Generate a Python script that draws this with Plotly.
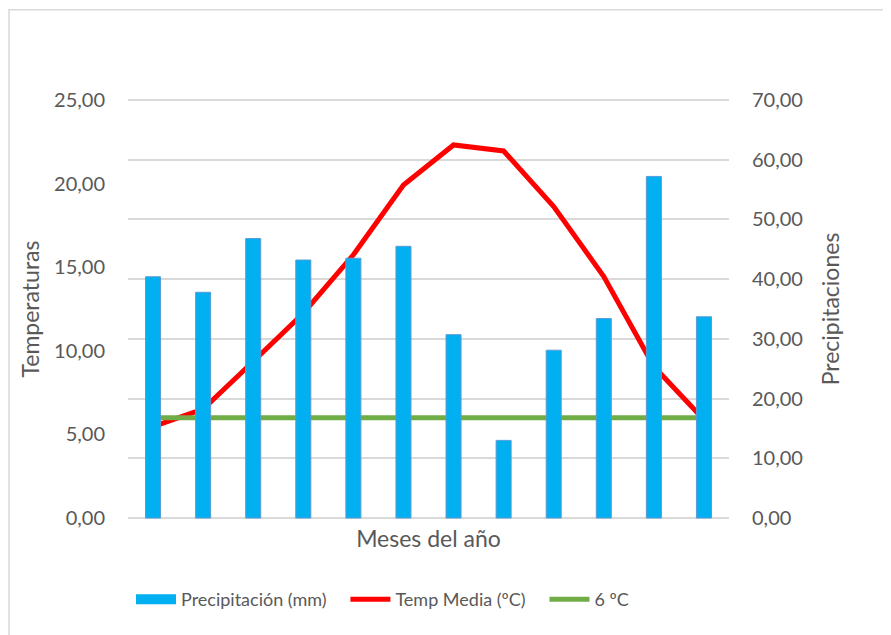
import plotly.graph_objects as go

meses = ["Ene", "Feb", "Mar", "Abr", "May", "Jun", "Jul", "Ago", "Sep", "Oct", "Nov", "Dic"]
precipitacion = [40.4, 37.8, 46.8, 43.2, 43.5, 45.5, 30.7, 13.0, 28.1, 33.4, 57.2, 33.7]
temp_media = [5.47, 6.52, 9.36, 12.25, 15.74, 19.92, 22.31, 21.95, 18.63, 14.44, 9.06, 5.88]
umbral = [6.0] * 12

left_ticks = [0, 5, 10, 15, 20, 25]
right_ticks = [0, 10, 20, 30, 40, 50, 60, 70]

FONT = "Lato, Carlito, Calibri, sans-serif"
GRAY = "#595959"
BAR_COLOR = "#00B0F0"
PAD = "\u00a0" * 3
EPS = 0.5  # headroom so the edge gridlines are drawn

fig = go.Figure()
fig.add_trace(go.Bar(
    x=meses, y=precipitacion, name="Precipitación (mm)", yaxis="y2",
    marker=dict(color=BAR_COLOR, line=dict(color="#5B9BD5", width=1)),
    width=0.3, showlegend=False,
))
# legend-only entry drawn as a wide rectangle like the original
fig.add_trace(go.Scatter(
    x=[None], y=[None], name="Precipitación (mm)" + PAD, mode="lines",
    line=dict(color=BAR_COLOR, width=14),
))
fig.add_trace(go.Scatter(
    x=meses, y=temp_media, name="Temp Media (ºC)" + PAD, mode="lines",
    line=dict(color="#FF0000", width=5),
))
fig.add_trace(go.Scatter(
    x=meses, y=umbral, name="6 ºC", mode="lines",
    line=dict(color="#70AD47", width=5),
))

fig.update_layout(
    width=891, height=635,
    margin=dict(l=120, r=170, t=89, b=122),
    paper_bgcolor="white", plot_bgcolor="white",
    font=dict(family=FONT, color=GRAY, size=19),
    showlegend=True,
    xaxis=dict(
        showticklabels=False, showgrid=False, zeroline=False,
        showline=False, ticks="",
        title=dict(text="Meses del año", font=dict(size=23, color=GRAY), standoff=9),
    ),
    yaxis=dict(
        range=[-EPS * 25 / 70, 25 + EPS * 25 / 70], tickvals=left_ticks,
        ticktext=[f"{v:.2f}".replace(".", ",") for v in left_ticks],
        showgrid=False, zeroline=False, showline=False,
        ticklen=0, ticklabelstandoff=22,
        title=dict(text="Temperaturas", font=dict(size=23, color=GRAY), standoff=7),
        tickfont=dict(size=20, color=GRAY),
    ),
    yaxis2=dict(
        range=[-EPS, 70 + EPS], tickvals=right_ticks,
        ticktext=[f"{v:.2f}".replace(".", ",") for v in right_ticks],
        overlaying="y", side="right",
        showgrid=True, gridcolor="#D9D9D9", gridwidth=1.5,
        zeroline=False, showline=False, ticklen=0, ticklabelstandoff=22,
        title=dict(text="Precipitaciones", font=dict(size=23, color=GRAY), standoff=20),
        tickfont=dict(size=20, color=GRAY),
    ),
    legend=dict(
        orientation="h", x=0.005, xanchor="left", y=-0.185, yanchor="middle",
        font=dict(size=18, color=GRAY), itemwidth=40, traceorder="normal",
        bgcolor="rgba(0,0,0,0)",
    ),
    shapes=[dict(
        type="rect", xref="paper", yref="paper",
        x0=-0.198, x1=1.4, y0=-0.5, y1=1.206,
        line=dict(color="#D9D9D9", width=1.5), layer="below",
    )],
)

fig.write_html("out.html")
